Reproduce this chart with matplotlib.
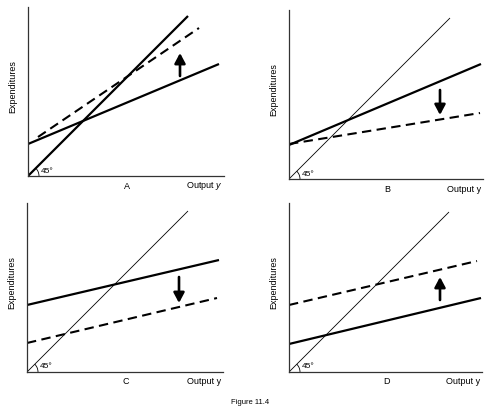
import matplotlib
matplotlib.use("Agg")
import matplotlib.pyplot as plt
from matplotlib.patches import Arc

plt.rcParams['font.family'] = ['Liberation Sans', 'DejaVu Sans']
plt.rcParams['mathtext.fontset'] = 'custom'
plt.rcParams['mathtext.it'] = 'Liberation Sans:italic'
plt.rcParams['mathtext.rm'] = 'Liberation Sans'

## Panel data (units: pixels from each panel's origin)
panels = ["A", "B", "C", "D"]
xlabels = ["Output $y$", "Output y", "Output y", "Output y"]
diag_end = [160, 161, 161, 160]
diag_lw = [1.6, 0.6, 0.6, 0.6]
solid_x = [(0, 191), (0, 192), (0, 192), (0, 192)]
solid_y = [(32, 112), (34, 115), (67, 112), (28, 74)]
dashed_x = [(10, 171), (0, 191), (0, 190), (0, 188)]
dashed_y = [(39, 148), (35, 66), (29, 74), (67, 111)]
arrow_x = [152, 151, 152, 151]
arrow_from = [100, 89, 95, 72]
arrow_to = [123, 64, 69, 95]

## Panel placement (pixel origin, width, height)
W, H = 498, 417
origins = [(28, 176), (289, 179), (27, 372), (289, 372)]
ax_w = [196, 194, 196, 193]
ax_h = 169

fig = plt.figure(figsize=(W / 100, H / 100), dpi=100)

for i, p in enumerate(panels):
    ox, oy = origins[i]
    ax = fig.add_axes([ox / W, (H - oy) / H, ax_w[i] / W, ax_h / H])
    ax.set_xlim(0, ax_w[i])
    ax.set_ylim(0, ax_h)
    for s in ['top', 'right']:
        ax.spines[s].set_visible(False)
    for s in ['left', 'bottom']:
        ax.spines[s].set_color('#333333')
        ax.spines[s].set_linewidth(0.9)
    ax.set_xticks([])
    ax.set_yticks([])
    ax.patch.set_alpha(0)

    ax.plot([0, diag_end[i]], [0, diag_end[i]], color='black', lw=diag_lw[i], solid_capstyle='butt')
    ax.plot(solid_x[i], solid_y[i], color='black', lw=1.6, solid_capstyle='butt')
    ax.plot(dashed_x[i], dashed_y[i], color='black', lw=1.5, linestyle=(0, (4.5, 2.6)))
    ax.annotate("", xy=(arrow_x[i], arrow_to[i]), xytext=(arrow_x[i], arrow_from[i]),
                arrowprops=dict(arrowstyle='-|>,head_length=0.6,head_width=0.32',
                                color='black', lw=1.9, shrinkA=0, shrinkB=0))

    ax.add_patch(Arc((0, 0), 22, 22, theta1=0, theta2=45, color='black', lw=0.6))
    ax.text(13, 5, "45°", fontsize=6, va='center', ha='left')

    ax.text(ax_w[i] / 2 + 1, -10, p, fontsize=6.5, ha='center', va='center', clip_on=False)
    ax.text(ax_w[i] - 2, -10, xlabels[i], fontsize=6.5, ha='right', va='center', clip_on=False)
    ax.text(-15, 89, "Expenditures", fontsize=6.5, rotation=90, ha='center', va='center', clip_on=False)

fig.text(250 / W, 1 - 403 / H, "Figure 11.4", fontsize=5.5, ha='center', va='center')

fig.savefig("out.png", dpi=100)
